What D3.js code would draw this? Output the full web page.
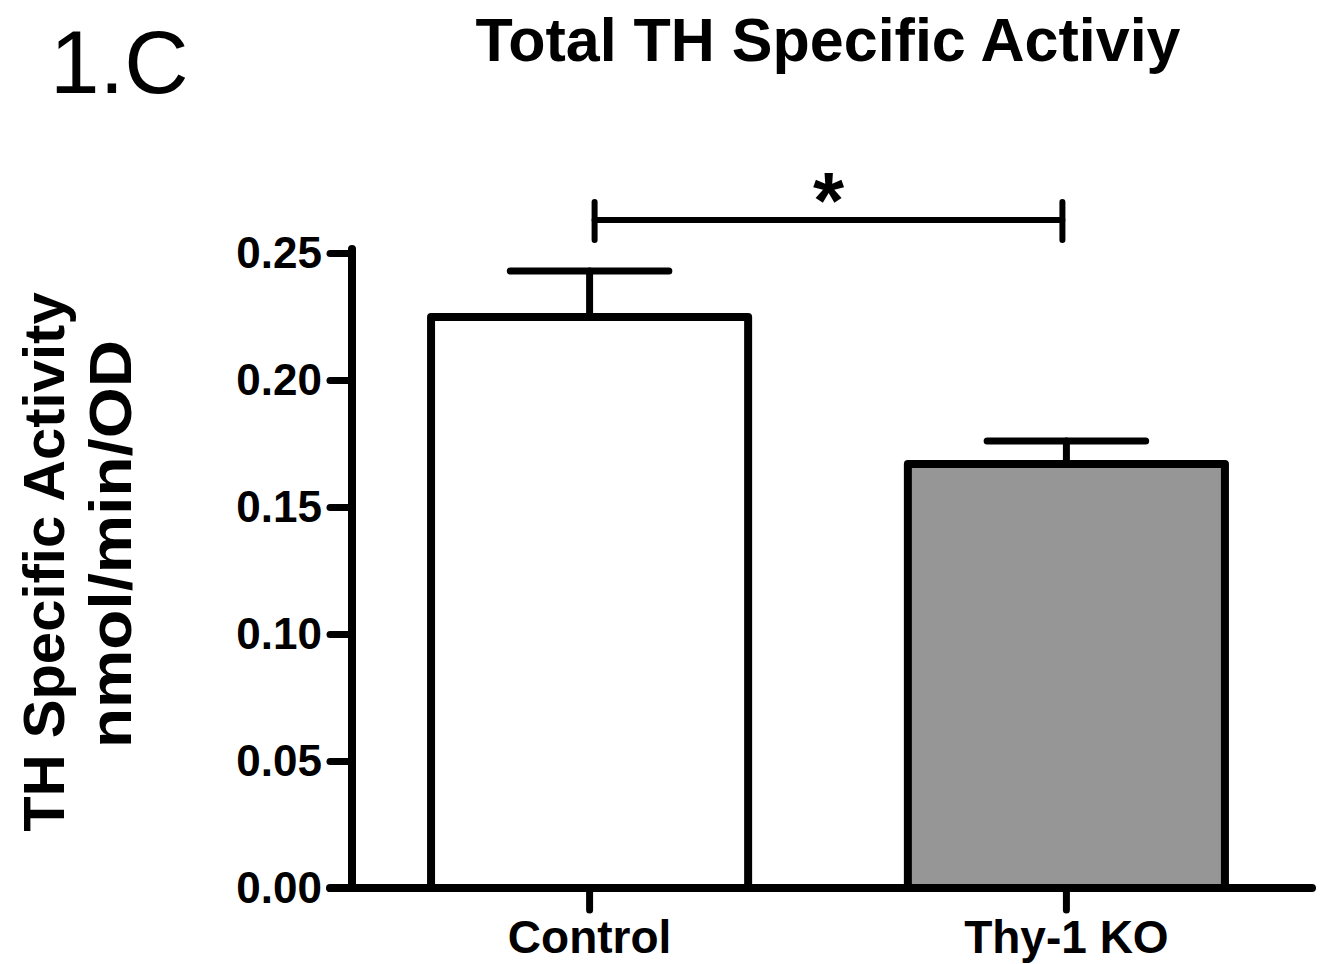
<!DOCTYPE html>
<html>
<head>
<meta charset="utf-8">
<script src="https://cdn.jsdelivr.net/npm/d3@7"></script>
<style>
  body { margin: 0; background: #fff; }
  svg { display: block; }
  text { font-family: "Liberation Sans", Arial, sans-serif; fill: #000; }
</style>
</head>
<body>
<svg id="chart"></svg>
<script>
// chart data
const categories = ['Control', 'Thy-1 KO'];
const means = [0.2248, 0.1669];
const sem = [0.0181, 0.0091];
const barFills = ['#ffffff', '#969696'];
const yTicks = [0.00, 0.05, 0.10, 0.15, 0.20, 0.25];
const significance = [{ from: 'Control', to: 'Thy-1 KO', label: '*', level: 0.263 }];

const W = 1323, H = 964;
const svg = d3.select('#chart').attr('width', W).attr('height', H);

const axisX0 = 352;   // y axis position
const axisX1 = 1312;  // end of x axis line
const y0 = 888;       // baseline

const y = d3.scaleLinear().domain([0, 0.25]).range([y0, 253]);
const x = d3.scaleBand()
  .domain(categories)
  .range([350, 1306])
  .paddingInner(0.335)
  .paddingOuter(0.17);

const lw = 8; // heavy line width like the original

// Bars
svg.selectAll('.bar')
  .data(categories)
  .enter()
  .append('rect')
  .attr('class', 'bar')
  .attr('x', d => x(d))
  .attr('width', x.bandwidth())
  .attr('y', (d, i) => y(means[i]))
  .attr('height', (d, i) => y(0) - y(means[i]))
  .attr('fill', (d, i) => barFills[i])
  .attr('stroke', '#000')
  .attr('stroke-width', lw)
  .attr('stroke-linejoin', 'round');

// Error bars (upper only)
const err = svg.append('g')
  .attr('stroke', '#000')
  .attr('stroke-width', 7)
  .attr('stroke-linecap', 'round');

categories.forEach((c, i) => {
  const cx = x(c) + x.bandwidth() / 2;
  err.append('line')
    .attr('x1', cx).attr('x2', cx)
    .attr('y1', y(means[i])).attr('y2', y(means[i] + sem[i]));
  err.append('line')
    .attr('x1', cx - x.bandwidth() / 4).attr('x2', cx + x.bandwidth() / 4)
    .attr('y1', y(means[i] + sem[i])).attr('y2', y(means[i] + sem[i]));
});

// Y axis
const yAxis = svg.append('g')
  .attr('transform', `translate(${axisX0},0)`)
  .call(d3.axisLeft(y).tickValues(yTicks).tickFormat(d3.format('.2f')).tickSize(22).tickPadding(8));
yAxis.select('.domain').remove();
yAxis.selectAll('.tick line').attr('stroke', '#000').attr('stroke-width', 7).attr('stroke-linecap', 'round');
yAxis.selectAll('.tick text')
  .style('font-size', '44px')
  .style('font-weight', 'bold')
  .style('font-family', '"Liberation Sans", Arial, sans-serif')
  .attr('fill', '#000');

svg.append('line')
  .attr('x1', axisX0).attr('x2', axisX0)
  .attr('y1', y(0.25) - 4).attr('y2', y0)
  .attr('stroke', '#000').attr('stroke-width', lw).attr('stroke-linecap', 'round');

// X axis
const xAxis = svg.append('g')
  .attr('transform', `translate(0,${y0})`)
  .call(d3.axisBottom(x).tickSize(22).tickPadding(10));
xAxis.select('.domain').remove();
xAxis.selectAll('.tick line').attr('stroke', '#000').attr('stroke-width', 7).attr('stroke-linecap', 'round');
xAxis.selectAll('.tick text')
  .style('font-size', '46px')
  .style('font-weight', 'bold')
  .style('font-family', '"Liberation Sans", Arial, sans-serif')
  .attr('fill', '#000');

svg.append('line')
  .attr('x1', axisX0 - 22).attr('x2', axisX1)
  .attr('y1', y0).attr('y2', y0)
  .attr('stroke', '#000').attr('stroke-width', lw).attr('stroke-linecap', 'round');

// Significance bracket
significance.forEach(s => {
  const xa = x(s.from) + x.bandwidth() / 2 + 5;
  const xb = x(s.to) + x.bandwidth() / 2 - 4;
  const yl = y(s.level);
  const g = svg.append('g')
    .attr('stroke', '#000')
    .attr('stroke-width', 6)
    .attr('stroke-linecap', 'round');
  g.append('line').attr('x1', xa).attr('x2', xb).attr('y1', yl).attr('y2', yl);
  g.append('line').attr('x1', xa).attr('x2', xa).attr('y1', yl - 18).attr('y2', yl + 20);
  g.append('line').attr('x1', xb).attr('x2', xb).attr('y1', yl - 18).attr('y2', yl + 20);
  svg.append('text')
    .attr('x', (xa + xb) / 2)
    .attr('y', yl + 8)
    .attr('text-anchor', 'middle')
    .style('font-size', '80px')
    .style('font-weight', 'bold')
    .text(s.label);
});

// Title
svg.append('text')
  .attr('x', 828)
  .attr('y', 61)
  .attr('text-anchor', 'middle')
  .style('font-size', '61px')
  .style('font-weight', 'bold')
  .text('Total TH Specific Activiy');

// Panel label
svg.append('text')
  .attr('x', 50)
  .attr('y', 93)
  .style('font-size', '89px')
  .text('1.C');

// Y axis label (two lines)
svg.append('text')
  .attr('transform', 'translate(64,562) rotate(-90)')
  .attr('text-anchor', 'middle')
  .style('font-size', '58px')
  .style('font-weight', 'bold')
  .text('TH Specific Activity');

svg.append('text')
  .attr('transform', 'translate(131,544) rotate(-90)')
  .attr('text-anchor', 'middle')
  .attr('textLength', 408)
  .attr('lengthAdjust', 'spacingAndGlyphs')
  .style('font-size', '60px')
  .style('font-weight', 'bold')
  .text('nmol/min/OD');
</script>
</body>
</html>
